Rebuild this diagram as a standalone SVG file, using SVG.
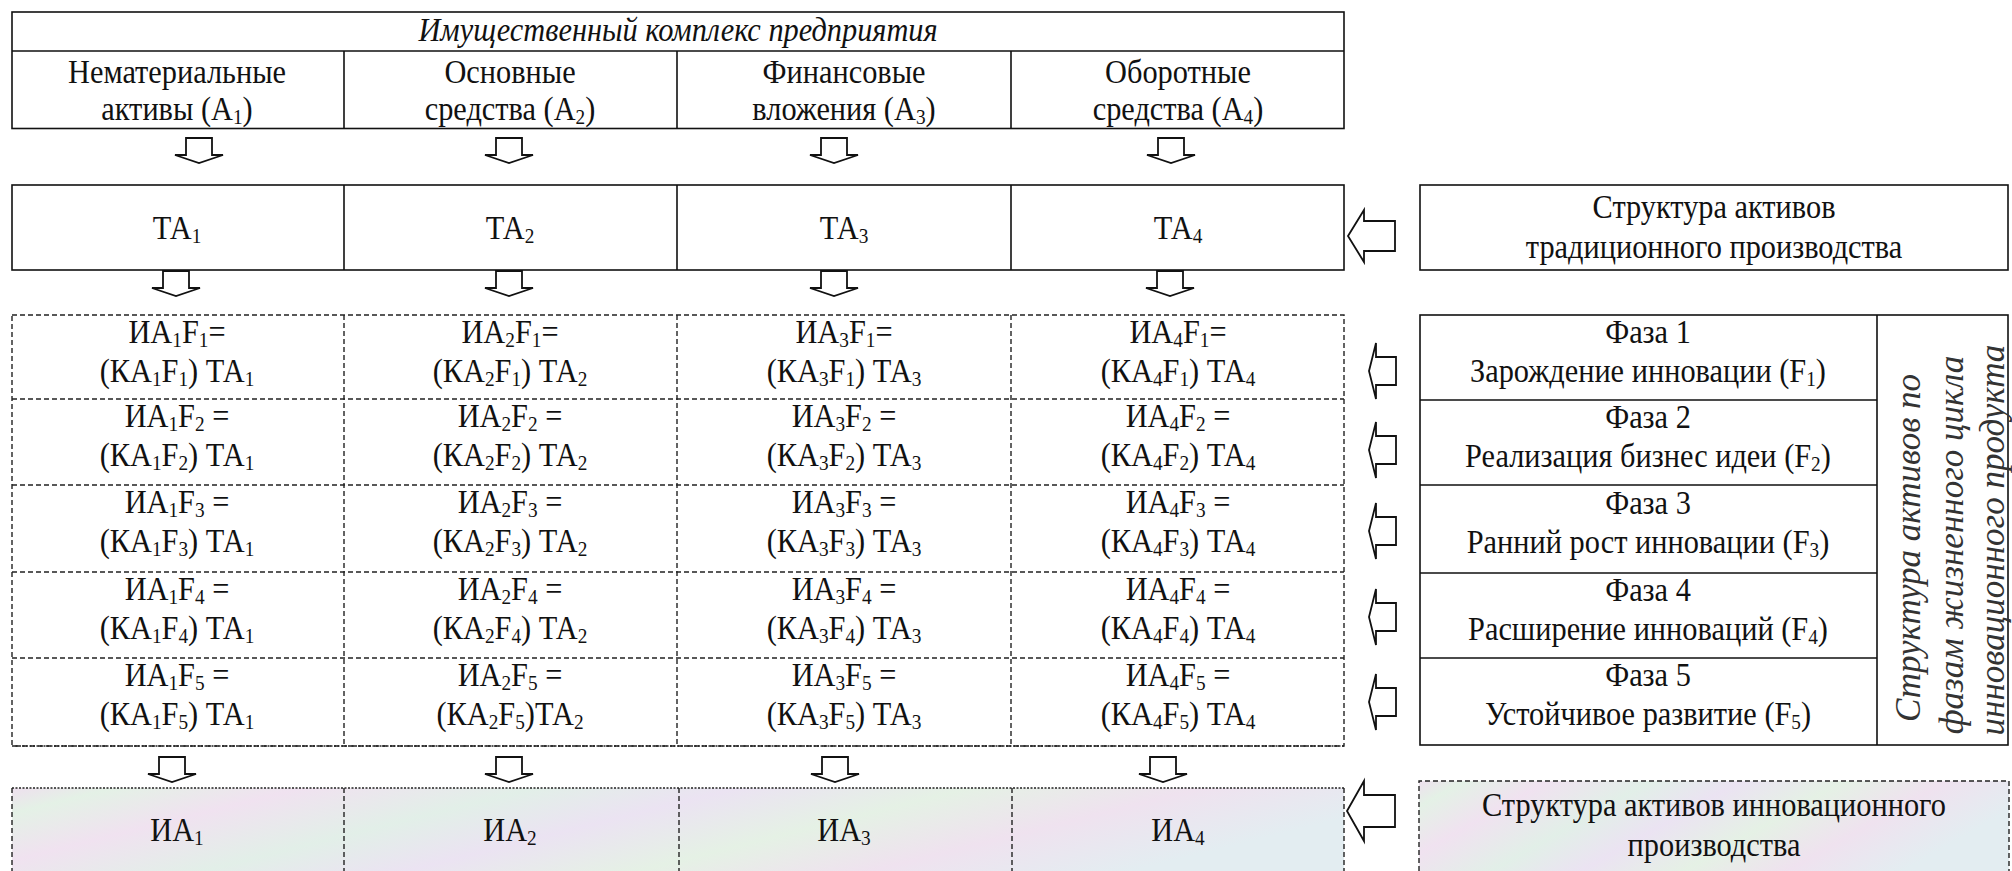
<svg xmlns="http://www.w3.org/2000/svg" width="2012" height="871" viewBox="0 0 2012 871">
<style>
text{font-family:"Liberation Serif","Times New Roman",serif;font-size:33px;fill:#111;text-anchor:middle}
.it{font-style:italic}
.vt{font-style:italic;fill:#333;font-size:35px}
.s{font-size:21px}
.solid{fill:#fff;stroke:#111;stroke-width:1.6}
.sl{stroke:#111;stroke-width:1.6;fill:none}
.dash{fill:none;stroke:#222;stroke-width:1.4;stroke-dasharray:5 3}
.dot{fill:none;stroke:#222;stroke-width:1.6;stroke-dasharray:2 1.5}
.arr{fill:#fff;stroke:#111;stroke-width:1.8;stroke-linejoin:miter}
</style>
<defs>
<path id="down" d="M-13,0 H13 V17 H24 L0,25 L-24,17 H-13 Z"/>
<path id="left" d="M0,0 L16,-26 V-15 H47 V15 H16 V26 Z"/>
<path id="leftbig" d="M0,0 L17,-30 V-16 H48 V16 H17 V30 Z"/>
<path id="lsmall" d="M0,0 L7,-28 V-14 H27 V14 H7 V28 Z"/>
<linearGradient id="pastel" x1="0" y1="0" x2="1" y2="0.3">
<stop offset="0" stop-color="#eee0ee"/>
<stop offset="0.07" stop-color="#e4f1e6"/>
<stop offset="0.2" stop-color="#f0e2f0"/>
<stop offset="0.36" stop-color="#e2efe8"/>
<stop offset="0.5" stop-color="#ebe3f2"/>
<stop offset="0.66" stop-color="#e5f1e5"/>
<stop offset="0.82" stop-color="#efe2ef"/>
<stop offset="1" stop-color="#e3edf1"/>
</linearGradient>
</defs>
<rect width="2012" height="871" fill="#fff"/>

<g id="property-complex">
<rect class="solid" x="12" y="12" width="1332" height="116.5"/>
<path class="sl" d="M12,51 H1344 M344,51 V128.5 M677,51 V128.5 M1011,51 V128.5"/>
<text class="it" transform="translate(678 41) scale(.92 1)">Имущественный комплекс предприятия</text>
<text transform="translate(177 83) scale(.92 1)">Нематериальные</text>
<text transform="translate(177 120) scale(.92 1)">активы (А<tspan class="s" dy="4">1</tspan><tspan dy="-4">)</tspan></text>
<text transform="translate(510 83) scale(.92 1)">Основные</text>
<text transform="translate(510 120) scale(.92 1)">средства (А<tspan class="s" dy="4">2</tspan><tspan dy="-4">)</tspan></text>
<text transform="translate(844 83) scale(.92 1)">Финансовые</text>
<text transform="translate(844 120) scale(.92 1)">вложения (А<tspan class="s" dy="4">3</tspan><tspan dy="-4">)</tspan></text>
<text transform="translate(1178 83) scale(.92 1)">Оборотные</text>
<text transform="translate(1178 120) scale(.92 1)">средства (А<tspan class="s" dy="4">4</tspan><tspan dy="-4">)</tspan></text>
</g>

<g id="traditional-assets">
<rect class="solid" x="12" y="185" width="1332" height="85"/>
<path class="sl" d="M344,185 V270 M677,185 V270 M1011,185 V270"/>
<text transform="translate(177 239) scale(.92 1)">ТА<tspan class="s" dy="4">1</tspan></text>
<text transform="translate(510 239) scale(.92 1)">ТА<tspan class="s" dy="4">2</tspan></text>
<text transform="translate(844 239) scale(.92 1)">ТА<tspan class="s" dy="4">3</tspan></text>
<text transform="translate(1178 239) scale(.92 1)">ТА<tspan class="s" dy="4">4</tspan></text>
</g>

<g id="traditional-structure">
<rect class="solid" x="1420" y="185" width="588" height="85"/>
<text transform="translate(1714 218) scale(.92 1)">Структура активов</text>
<text transform="translate(1714 258) scale(.92 1)">традиционного производства</text>
</g>

<g id="innovation-phase-table">
<rect class="dash" x="12" y="315" width="1332" height="431"/>
<path class="dash" d="M12,399 H1344 M12,485 H1344 M12,572 H1344 M12,658 H1344 M344,315 V746 M677,315 V746 M1011,315 V746"/>
<path class="dot" d="M12,746 H1344"/>
<!-- row 1 -->
<text transform="translate(177 343) scale(.92 1)">ИА<tspan class="s" dy="4">1</tspan><tspan dy="-4">F</tspan><tspan class="s" dy="4">1</tspan><tspan dy="-4">=</tspan></text>
<text transform="translate(177 382) scale(.92 1)">(КА<tspan class="s" dy="4">1</tspan><tspan dy="-4">F</tspan><tspan class="s" dy="4">1</tspan><tspan dy="-4">) ТА</tspan><tspan class="s" dy="4">1</tspan></text>
<text transform="translate(510 343) scale(.92 1)">ИА<tspan class="s" dy="4">2</tspan><tspan dy="-4">F</tspan><tspan class="s" dy="4">1</tspan><tspan dy="-4">=</tspan></text>
<text transform="translate(510 382) scale(.92 1)">(КА<tspan class="s" dy="4">2</tspan><tspan dy="-4">F</tspan><tspan class="s" dy="4">1</tspan><tspan dy="-4">) ТА</tspan><tspan class="s" dy="4">2</tspan></text>
<text transform="translate(844 343) scale(.92 1)">ИА<tspan class="s" dy="4">3</tspan><tspan dy="-4">F</tspan><tspan class="s" dy="4">1</tspan><tspan dy="-4">=</tspan></text>
<text transform="translate(844 382) scale(.92 1)">(КА<tspan class="s" dy="4">3</tspan><tspan dy="-4">F</tspan><tspan class="s" dy="4">1</tspan><tspan dy="-4">) ТА</tspan><tspan class="s" dy="4">3</tspan></text>
<text transform="translate(1178 343) scale(.92 1)">ИА<tspan class="s" dy="4">4</tspan><tspan dy="-4">F</tspan><tspan class="s" dy="4">1</tspan><tspan dy="-4">=</tspan></text>
<text transform="translate(1178 382) scale(.92 1)">(КА<tspan class="s" dy="4">4</tspan><tspan dy="-4">F</tspan><tspan class="s" dy="4">1</tspan><tspan dy="-4">) ТА</tspan><tspan class="s" dy="4">4</tspan></text>
<!-- row 2 -->
<text transform="translate(177 427) scale(.92 1)">ИА<tspan class="s" dy="4">1</tspan><tspan dy="-4">F</tspan><tspan class="s" dy="4">2</tspan><tspan dy="-4"> =</tspan></text>
<text transform="translate(177 466) scale(.92 1)">(КА<tspan class="s" dy="4">1</tspan><tspan dy="-4">F</tspan><tspan class="s" dy="4">2</tspan><tspan dy="-4">) ТА</tspan><tspan class="s" dy="4">1</tspan></text>
<text transform="translate(510 427) scale(.92 1)">ИА<tspan class="s" dy="4">2</tspan><tspan dy="-4">F</tspan><tspan class="s" dy="4">2</tspan><tspan dy="-4"> =</tspan></text>
<text transform="translate(510 466) scale(.92 1)">(КА<tspan class="s" dy="4">2</tspan><tspan dy="-4">F</tspan><tspan class="s" dy="4">2</tspan><tspan dy="-4">) ТА</tspan><tspan class="s" dy="4">2</tspan></text>
<text transform="translate(844 427) scale(.92 1)">ИА<tspan class="s" dy="4">3</tspan><tspan dy="-4">F</tspan><tspan class="s" dy="4">2</tspan><tspan dy="-4"> =</tspan></text>
<text transform="translate(844 466) scale(.92 1)">(КА<tspan class="s" dy="4">3</tspan><tspan dy="-4">F</tspan><tspan class="s" dy="4">2</tspan><tspan dy="-4">) ТА</tspan><tspan class="s" dy="4">3</tspan></text>
<text transform="translate(1178 427) scale(.92 1)">ИА<tspan class="s" dy="4">4</tspan><tspan dy="-4">F</tspan><tspan class="s" dy="4">2</tspan><tspan dy="-4"> =</tspan></text>
<text transform="translate(1178 466) scale(.92 1)">(КА<tspan class="s" dy="4">4</tspan><tspan dy="-4">F</tspan><tspan class="s" dy="4">2</tspan><tspan dy="-4">) ТА</tspan><tspan class="s" dy="4">4</tspan></text>
<!-- row 3 -->
<text transform="translate(177 513) scale(.92 1)">ИА<tspan class="s" dy="4">1</tspan><tspan dy="-4">F</tspan><tspan class="s" dy="4">3</tspan><tspan dy="-4"> =</tspan></text>
<text transform="translate(177 552) scale(.92 1)">(КА<tspan class="s" dy="4">1</tspan><tspan dy="-4">F</tspan><tspan class="s" dy="4">3</tspan><tspan dy="-4">) ТА</tspan><tspan class="s" dy="4">1</tspan></text>
<text transform="translate(510 513) scale(.92 1)">ИА<tspan class="s" dy="4">2</tspan><tspan dy="-4">F</tspan><tspan class="s" dy="4">3</tspan><tspan dy="-4"> =</tspan></text>
<text transform="translate(510 552) scale(.92 1)">(КА<tspan class="s" dy="4">2</tspan><tspan dy="-4">F</tspan><tspan class="s" dy="4">3</tspan><tspan dy="-4">) ТА</tspan><tspan class="s" dy="4">2</tspan></text>
<text transform="translate(844 513) scale(.92 1)">ИА<tspan class="s" dy="4">3</tspan><tspan dy="-4">F</tspan><tspan class="s" dy="4">3</tspan><tspan dy="-4"> =</tspan></text>
<text transform="translate(844 552) scale(.92 1)">(КА<tspan class="s" dy="4">3</tspan><tspan dy="-4">F</tspan><tspan class="s" dy="4">3</tspan><tspan dy="-4">) ТА</tspan><tspan class="s" dy="4">3</tspan></text>
<text transform="translate(1178 513) scale(.92 1)">ИА<tspan class="s" dy="4">4</tspan><tspan dy="-4">F</tspan><tspan class="s" dy="4">3</tspan><tspan dy="-4"> =</tspan></text>
<text transform="translate(1178 552) scale(.92 1)">(КА<tspan class="s" dy="4">4</tspan><tspan dy="-4">F</tspan><tspan class="s" dy="4">3</tspan><tspan dy="-4">) ТА</tspan><tspan class="s" dy="4">4</tspan></text>
<!-- row 4 -->
<text transform="translate(177 600) scale(.92 1)">ИА<tspan class="s" dy="4">1</tspan><tspan dy="-4">F</tspan><tspan class="s" dy="4">4</tspan><tspan dy="-4"> =</tspan></text>
<text transform="translate(177 639) scale(.92 1)">(КА<tspan class="s" dy="4">1</tspan><tspan dy="-4">F</tspan><tspan class="s" dy="4">4</tspan><tspan dy="-4">) ТА</tspan><tspan class="s" dy="4">1</tspan></text>
<text transform="translate(510 600) scale(.92 1)">ИА<tspan class="s" dy="4">2</tspan><tspan dy="-4">F</tspan><tspan class="s" dy="4">4</tspan><tspan dy="-4"> =</tspan></text>
<text transform="translate(510 639) scale(.92 1)">(КА<tspan class="s" dy="4">2</tspan><tspan dy="-4">F</tspan><tspan class="s" dy="4">4</tspan><tspan dy="-4">) ТА</tspan><tspan class="s" dy="4">2</tspan></text>
<text transform="translate(844 600) scale(.92 1)">ИА<tspan class="s" dy="4">3</tspan><tspan dy="-4">F</tspan><tspan class="s" dy="4">4</tspan><tspan dy="-4"> =</tspan></text>
<text transform="translate(844 639) scale(.92 1)">(КА<tspan class="s" dy="4">3</tspan><tspan dy="-4">F</tspan><tspan class="s" dy="4">4</tspan><tspan dy="-4">) ТА</tspan><tspan class="s" dy="4">3</tspan></text>
<text transform="translate(1178 600) scale(.92 1)">ИА<tspan class="s" dy="4">4</tspan><tspan dy="-4">F</tspan><tspan class="s" dy="4">4</tspan><tspan dy="-4"> =</tspan></text>
<text transform="translate(1178 639) scale(.92 1)">(КА<tspan class="s" dy="4">4</tspan><tspan dy="-4">F</tspan><tspan class="s" dy="4">4</tspan><tspan dy="-4">) ТА</tspan><tspan class="s" dy="4">4</tspan></text>
<!-- row 5 -->
<text transform="translate(177 686) scale(.92 1)">ИА<tspan class="s" dy="4">1</tspan><tspan dy="-4">F</tspan><tspan class="s" dy="4">5</tspan><tspan dy="-4"> =</tspan></text>
<text transform="translate(177 725) scale(.92 1)">(КА<tspan class="s" dy="4">1</tspan><tspan dy="-4">F</tspan><tspan class="s" dy="4">5</tspan><tspan dy="-4">) ТА</tspan><tspan class="s" dy="4">1</tspan></text>
<text transform="translate(510 686) scale(.92 1)">ИА<tspan class="s" dy="4">2</tspan><tspan dy="-4">F</tspan><tspan class="s" dy="4">5</tspan><tspan dy="-4"> =</tspan></text>
<text transform="translate(510 725) scale(.92 1)">(КА<tspan class="s" dy="4">2</tspan><tspan dy="-4">F</tspan><tspan class="s" dy="4">5</tspan><tspan dy="-4">)ТА</tspan><tspan class="s" dy="4">2</tspan></text>
<text transform="translate(844 686) scale(.92 1)">ИА<tspan class="s" dy="4">3</tspan><tspan dy="-4">F</tspan><tspan class="s" dy="4">5</tspan><tspan dy="-4"> =</tspan></text>
<text transform="translate(844 725) scale(.92 1)">(КА<tspan class="s" dy="4">3</tspan><tspan dy="-4">F</tspan><tspan class="s" dy="4">5</tspan><tspan dy="-4">) ТА</tspan><tspan class="s" dy="4">3</tspan></text>
<text transform="translate(1178 686) scale(.92 1)">ИА<tspan class="s" dy="4">4</tspan><tspan dy="-4">F</tspan><tspan class="s" dy="4">5</tspan><tspan dy="-4"> =</tspan></text>
<text transform="translate(1178 725) scale(.92 1)">(КА<tspan class="s" dy="4">4</tspan><tspan dy="-4">F</tspan><tspan class="s" dy="4">5</tspan><tspan dy="-4">) ТА</tspan><tspan class="s" dy="4">4</tspan></text>
</g>

<g id="phases">
<rect class="solid" x="1420" y="315" width="588" height="430"/>
<path class="sl" d="M1877,315 V745 M1420,400 H1877 M1420,485 H1877 M1420,573 H1877 M1420,658 H1877"/>
<text transform="translate(1648 343) scale(.92 1)">Фаза 1</text>
<text transform="translate(1648 382) scale(.92 1)">Зарождение инновации (F<tspan class="s" dy="4">1</tspan><tspan dy="-4">)</tspan></text>
<text transform="translate(1648 428) scale(.92 1)">Фаза 2</text>
<text transform="translate(1648 467) scale(.92 1)">Реализация бизнес идеи (F<tspan class="s" dy="4">2</tspan><tspan dy="-4">)</tspan></text>
<text transform="translate(1648 514) scale(.92 1)">Фаза 3</text>
<text transform="translate(1648 553) scale(.92 1)">Ранний рост инновации (F<tspan class="s" dy="4">3</tspan><tspan dy="-4">)</tspan></text>
<text transform="translate(1648 601) scale(.92 1)">Фаза 4</text>
<text transform="translate(1648 640) scale(.92 1)">Расширение инноваций (F<tspan class="s" dy="4">4</tspan><tspan dy="-4">)</tspan></text>
<text transform="translate(1648 686) scale(.92 1)">Фаза 5</text>
<text transform="translate(1648 725) scale(.92 1)">Устойчивое развитие (F<tspan class="s" dy="4">5</tspan><tspan dy="-4">)</tspan></text>
<text class="vt" transform="translate(1920,548) rotate(-90)">Структура активов по</text>
<text class="vt" transform="translate(1963,545) rotate(-90)">фазам жизненного цикла</text>
<text class="vt" transform="translate(2004,540) rotate(-90)">инновационного продукта</text>
</g>

<g id="innovation-assets">
<rect x="12" y="788" width="1332" height="100" fill="url(#pastel)"/>
<path class="dot" d="M12,788 H1344"/>
<path class="dash" d="M12,788 V871 M344,788 V871 M679,788 V871 M1012,788 V871 M1344,788 V871"/>
<text transform="translate(177 841) scale(.92 1)">ИА<tspan class="s" dy="4">1</tspan></text>
<text transform="translate(510 841) scale(.92 1)">ИА<tspan class="s" dy="4">2</tspan></text>
<text transform="translate(844 841) scale(.92 1)">ИА<tspan class="s" dy="4">3</tspan></text>
<text transform="translate(1178 841) scale(.92 1)">ИА<tspan class="s" dy="4">4</tspan></text>
</g>

<g id="innovation-structure">
<rect x="1419" y="781" width="590" height="100" fill="url(#pastel)"/>
<path class="dash" d="M1419,871 V781 H2009 V871"/>
<text transform="translate(1714 816) scale(.92 1)">Структура активов инновационного</text>
<text transform="translate(1714 856) scale(.92 1)">производства</text>
</g>

<g id="connectors">
<use href="#down" class="arr" x="199" y="138"/>
<use href="#down" class="arr" x="509" y="138"/>
<use href="#down" class="arr" x="834" y="138"/>
<use href="#down" class="arr" x="1171" y="138"/>
<use href="#down" class="arr" x="176" y="271"/>
<use href="#down" class="arr" x="509" y="271"/>
<use href="#down" class="arr" x="834" y="271"/>
<use href="#down" class="arr" x="1170" y="271"/>
<use href="#down" class="arr" x="172" y="757"/>
<use href="#down" class="arr" x="509" y="757"/>
<use href="#down" class="arr" x="835" y="757"/>
<use href="#down" class="arr" x="1163" y="757"/>
<use href="#left" class="arr" x="1348" y="236"/>
<use href="#leftbig" class="arr" x="1347" y="811"/>
<use href="#lsmall" class="arr" x="1369" y="371"/>
<use href="#lsmall" class="arr" x="1369" y="450"/>
<use href="#lsmall" class="arr" x="1369" y="531"/>
<use href="#lsmall" class="arr" x="1369" y="617"/>
<use href="#lsmall" class="arr" x="1369" y="702"/>
</g>
</svg>
